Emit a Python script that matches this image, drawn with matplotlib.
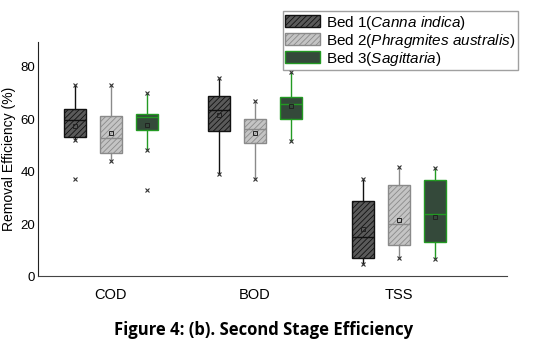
import numpy as np
import matplotlib.pyplot as plt
from matplotlib.patches import Patch

plt.rcParams['font.family'] = ['Liberation Sans', 'DejaVu Sans']
plt.rcParams['mathtext.fontset'] = 'custom'
plt.rcParams['mathtext.rm'] = 'Liberation Sans'
plt.rcParams['mathtext.it'] = 'Liberation Sans:italic'
plt.rcParams['hatch.linewidth'] = 0.6

parametros = ['COD', 'BOD', 'TSS']
camas = ['Bed 1', 'Bed 2', 'Bed 3']
especies = ['Canna indica', 'Phragmites australis', 'Sagittaria']

# valores: [COD, BOD, TSS] por cama
q1 = [[53.4, 55.7, 6.9], [47.2, 50.8, 12.0], [55.9, 60.3, 13.0]]
mediana = [[59.7, 63.5, 15.2], [52.7, 56.2, 19.9], [60.7, 66.0, 23.7]]
q3 = [[63.9, 68.9, 28.9], [61.1, 60.1, 34.8], [62.1, 68.6, 36.7]]
media = [[57.5, 61.6, 18.1], [54.6, 54.6, 21.7], [58.0, 65.0, 22.8]]
bigote_inf = [[52.2, 39.2, 4.8], [44.0, 37.4, 7.2], [48.2, 51.8, 6.8]]
bigote_sup = [[73.0, 75.9, 37.2], [73.0, 66.8, 41.9], [70.1, 78.1, 41.3]]
atipicos = [[[37.4], [], []], [[], [], []], [[33.0], [], []]]

relleno = ['#5a5a5a', '#c4c4c4', '#34493a']
borde = ['#111111', '#8a8a8a', '#239a23']
desplaz = [-0.25, 0.0, 0.25]

fig = plt.figure(figsize=(5.42, 3.51), dpi=100)
ax = fig.add_axes([0.0701, 0.2123, 0.8653, 0.668])

for i in range(3):
    stats = []
    for j in range(3):
        stats.append(dict(q1=q1[i][j], med=mediana[i][j], q3=q3[i][j],
                          mean=media[i][j], whislo=bigote_inf[i][j],
                          whishi=bigote_sup[i][j],
                          fliers=atipicos[i][j] + [bigote_inf[i][j], bigote_sup[i][j]]))
    pos = np.arange(1, 4) + desplaz[i]
    bp = ax.bxp(stats, positions=pos, widths=0.155, patch_artist=True,
                showmeans=True, showcaps=False,
                boxprops=dict(facecolor=relleno[i], edgecolor=borde[i], linewidth=1.0,
                              hatch='//////' if i < 2 else None),
                whiskerprops=dict(color=borde[i], linewidth=1.0),
                medianprops=dict(color='#111111' if i == 0 else borde[i], linewidth=1.0),
                meanprops=dict(marker='s', markerfacecolor='none',
                               markeredgecolor='#222222', markersize=3.5,
                               markeredgewidth=0.7),
                flierprops=dict(marker='x', markersize=3, markeredgecolor='#333333',
                                markeredgewidth=0.8))

ax.set_xlim(0.493, 3.75)
ax.set_ylim(0, 89.5)
ax.set_yticks([0, 20, 40, 60, 80])
ax.set_xticks([1, 2, 3])
ax.set_xticklabels(parametros, fontsize=10.5)
ax.tick_params(axis='y', length=0, labelsize=9.5, pad=2)
ax.tick_params(axis='x', length=0, pad=8)
ax.spines['top'].set_visible(False)
ax.spines['right'].set_visible(False)
ax.spines['left'].set_color('#222222')
ax.spines['bottom'].set_color('#444444')
ax.set_ylabel('Removal Efficiency (%)', fontsize=10, labelpad=3)

handles = []
etiquetas = []
for i in range(3):
    handles.append(Patch(facecolor=relleno[i], edgecolor=borde[i],
                         hatch='//////' if i < 2 else None))
    etiquetas.append(camas[i] + '($\\it{' + especies[i].replace(' ', '\\ ') + '}$)')
fig.legend(handles, etiquetas, loc='upper left', bbox_to_anchor=(0.522, 0.968),
           fontsize=11, frameon=True, fancybox=False, edgecolor='#888888',
           handlelength=2.3, handleheight=0.85, handletextpad=0.4,
           labelspacing=0.0, borderpad=0.15, borderaxespad=0)

fig.text(0.487, 0.06, 'Figure 4: (b). Second Stage Efficiency', ha='center',
         va='center', fontsize=12, fontweight='bold', family='Open Sans')

fig.savefig('out.png', dpi=100)
